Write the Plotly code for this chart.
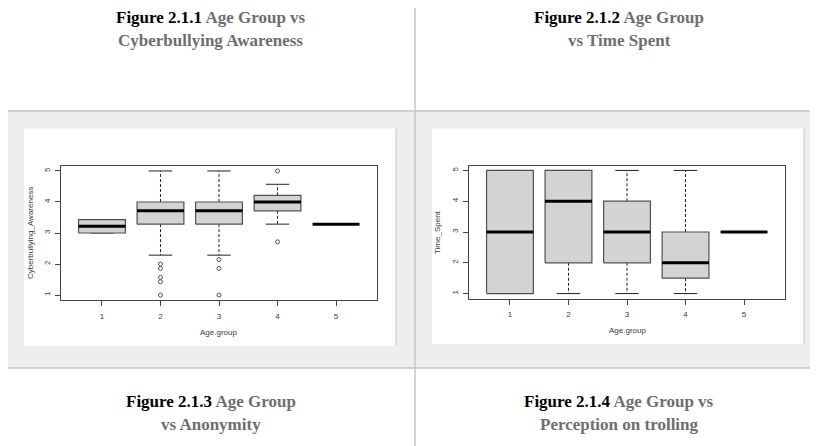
import plotly.graph_objects as go

# The page body has an 8px margin; the figure is sized to fill the rest of the window.
OFF = 8
W, H = 818 - OFF, 446 - OFF

# ---------------- data ----------------
groups = [1, 2, 3, 4, 5]
group_labels = ["1", "2", "3", "4", "5"]
y_ticks = [1, 2, 3, 4, 5]

# Figure 2.1.1 : Age group vs Cyberbullying_Awareness (box statistics)
aware_q1 = [3.0, 3.286, 3.286, 3.714, 3.286]
aware_med = [3.214, 3.714, 3.714, 4.0, 3.286]
aware_q3 = [3.429, 4.0, 4.0, 4.214, 3.286]
aware_lo = [3.0, 2.286, 2.286, 3.286, 3.286]
aware_hi = [3.429, 5.0, 5.0, 4.571, 3.286]
aware_out_x = [2, 2, 2, 2, 2, 3, 3, 3, 4, 4]
aware_out_y = [2.0, 1.857, 1.571, 1.429, 1.0, 2.143, 1.857, 1.0, 5.0, 2.714]

# Figure 2.1.2 : Age group vs Time_Spent (box statistics)
time_q1 = [1, 2, 2, 1.5, 3]
time_med = [3, 4, 3, 2, 3]
time_q3 = [5, 5, 4, 3, 3]
time_lo = [1, 1, 1, 1, 3]
time_hi = [5, 5, 5, 5, 3]
time_out_x = []
time_out_y = []

header_top = [
    ("Figure 2.1.1", "Age Group vs", "Cyberbullying Awareness"),
    ("Figure 2.1.2", "Age Group", "vs Time Spent"),
]
header_bottom = [
    ("Figure 2.1.3", "Age Group", "vs Anonymity"),
    ("Figure 2.1.4", "Age Group vs", "Perception on trolling"),
]
x_title = "Age.group"
y_titles = ["Cyberbullying_Awareness", "Time_Spent"]

# ---------------- helpers (window pixel -> paper) ----------------
def px(x):
    return (x - OFF) / W


def py(y):
    return 1 - (y - OFF) / H


fig = go.Figure()

BOX_LINE = "#505050"
INK = "#3a3a3a"


def add_boxes(xa, ya, q1, med, q3, lo, hi, ox, oy):
    for g, a, m, b, l, h in zip(groups, q1, med, q3, lo, hi):
        # whiskers (dashed)
        fig.add_trace(go.Scatter(
            x=[g, g, None, g, g], y=[b, h, None, a, l], mode="lines",
            line=dict(color="#202020", width=1, dash="3px,2px"),
            xaxis=xa, yaxis=ya, hoverinfo="skip", showlegend=False))
        # staples
        fig.add_trace(go.Scatter(
            x=[g - 0.2, g + 0.2, None, g - 0.2, g + 0.2], y=[h, h, None, l, l],
            mode="lines", line=dict(color="#202020", width=1),
            xaxis=xa, yaxis=ya, hoverinfo="skip", showlegend=False))
        # box
        fig.add_trace(go.Scatter(
            x=[g - 0.4, g + 0.4, g + 0.4, g - 0.4, g - 0.4], y=[a, a, b, b, a],
            mode="lines", fill="toself", fillcolor="#d3d3d3",
            line=dict(color=BOX_LINE, width=1.2),
            xaxis=xa, yaxis=ya, hoverinfo="skip", showlegend=False))
        # median
        fig.add_trace(go.Scatter(
            x=[g - 0.4, g + 0.4], y=[m, m], mode="lines",
            line=dict(color="#000000", width=3),
            xaxis=xa, yaxis=ya, hoverinfo="skip", showlegend=False))
    if ox:
        fig.add_trace(go.Scatter(
            x=ox, y=oy, mode="markers",
            marker=dict(symbol="circle-open", size=4, color="#555555", line=dict(width=1)),
            xaxis=xa, yaxis=ya, hoverinfo="skip", showlegend=False))


add_boxes("x", "y", aware_q1, aware_med, aware_q3, aware_lo, aware_hi, aware_out_x, aware_out_y)
add_boxes("x2", "y2", time_q1, time_med, time_q3, time_lo, time_hi, time_out_x, time_out_y)

# ---------------- table background / lines ----------------
LINE = "#c6c6c6"
shapes = []
shapes.append(dict(type="rect", xref="paper", yref="paper", x0=px(6), x1=px(818),
                   y0=py(368), y1=py(111), fillcolor="#eeeeee", line=dict(width=0), layer="below"))
# chart image panels
for x0, x1, y1 in [(24, 396, 346), (432, 804, 344)]:
    shapes.append(dict(type="rect", xref="paper", yref="paper", x0=px(x0), x1=px(x1),
                       y0=py(y1), y1=py(128.5), fillcolor="#ffffff", line=dict(width=0), layer="below"))
    shapes.append(dict(type="line", xref="paper", yref="paper", x0=px(x1), x1=px(x1),
                       y0=py(y1), y1=py(128.5), line=dict(color="#c8c8c8", width=1), layer="below"))
# grid lines of the table
for (x0, y0, x1, y1) in [(6, 7, 818, 7), (6, 111, 818, 111), (6, 368, 818, 368),
                         (6, 7, 6, 446), (415, 7, 415, 446)]:
    shapes.append(dict(type="line", xref="paper", yref="paper", x0=px(x0), x1=px(x1),
                       y0=py(y0), y1=py(y1), line=dict(color=LINE, width=1.5), layer="below"))

# ---------------- annotations ----------------
ann = []
SERIF = "Liberation Serif"
GRAYTXT = "#6e6e6e"
HSIZE = 17
for (fig_no, rest1, line2), cx in zip(header_top, [210.5, 619]):
    ann.append(dict(xref="paper", yref="paper", x=px(cx), y=py(18), xanchor="center", yanchor="middle",
                    showarrow=False, font=dict(family=SERIF, size=HSIZE, color="#000000"),
                    text=f"<b>{fig_no} <span style='color:{GRAYTXT}'>{rest1}</span></b>"))
    ann.append(dict(xref="paper", yref="paper", x=px(cx), y=py(40), xanchor="center", yanchor="middle",
                    showarrow=False, font=dict(family=SERIF, size=HSIZE, color=GRAYTXT),
                    text=f"<b>{line2}</b>"))
for (fig_no, rest1, line2), cx in zip(header_bottom, [210.5, 619]):
    ann.append(dict(xref="paper", yref="paper", x=px(cx), y=py(401), xanchor="center", yanchor="middle",
                    showarrow=False, font=dict(family=SERIF, size=HSIZE, color="#000000"),
                    text=f"<b>{fig_no} <span style='color:{GRAYTXT}'>{rest1}</span></b>"))
    ann.append(dict(xref="paper", yref="paper", x=px(cx), y=py(424), xanchor="center", yanchor="middle",
                    showarrow=False, font=dict(family=SERIF, size=HSIZE, color=GRAYTXT),
                    text=f"<b>{line2}</b>"))

SANS = "Liberation Sans"
# axis titles (R style)
for cx, cy, t in [(218, 332, x_title), (627, 330, x_title)]:
    ann.append(dict(xref="paper", yref="paper", x=px(cx), y=py(cy), xanchor="center", yanchor="middle",
                    showarrow=False, font=dict(family=SANS, size=8, color=INK), text=t))
for cx, cy, t in [(30, 233, y_titles[0]), (437, 232, y_titles[1])]:
    ann.append(dict(xref="paper", yref="paper", x=px(cx), y=py(cy), xanchor="center", yanchor="middle",
                    showarrow=False, textangle=-90, font=dict(family=SANS, size=8, color=INK), text=t))

axis_common = dict(showgrid=False, zeroline=False, showline=True, mirror=True,
                   linecolor="#444444", linewidth=1, ticks="outside", ticklen=5,
                   tickcolor="#444444", tickwidth=1,
                   tickfont=dict(family=SANS, size=8, color=INK), fixedrange=True)

fig.update_layout(
    width=W, height=H, margin=dict(l=0, r=0, t=0, b=0),
    paper_bgcolor="#ffffff", plot_bgcolor="#ffffff",
    showlegend=False, shapes=shapes, annotations=ann,
    xaxis=dict(domain=[px(61), px(377)], range=[0.3, 5.7], tickvals=groups, ticktext=group_labels,
               anchor="y", ticklabelstandoff=3, **axis_common),
    yaxis=dict(domain=[py(300), py(166)], range=[0.84, 5.16], tickvals=y_ticks, tickangle=-90,
               anchor="x", ticklabelstandoff=2, **axis_common),
    xaxis2=dict(domain=[px(469), px(785)], range=[0.3, 5.7], tickvals=groups, ticktext=group_labels,
                anchor="y2", ticklabelstandoff=3, **axis_common),
    yaxis2=dict(domain=[py(298.5), py(165.5)], range=[0.84, 5.16], tickvals=y_ticks, tickangle=-90,
                anchor="x2", ticklabelstandoff=2, **axis_common),
)

fig.write_html("out.html")
